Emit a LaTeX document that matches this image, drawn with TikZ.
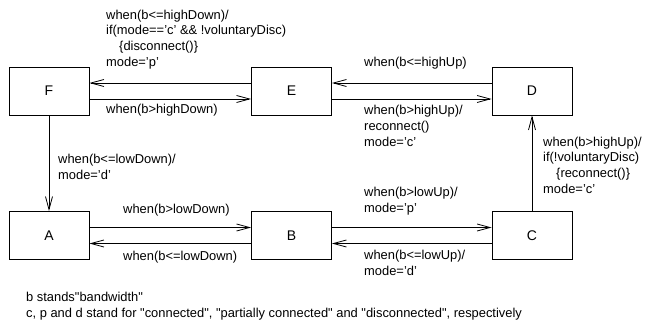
\documentclass[tikz,border=0pt]{standalone}
\usepackage{fontspec}
\setmainfont{Liberation Sans}[Ligatures=TeXOff]
\usetikzlibrary{arrows.meta}
\begin{document}
\begin{tikzpicture}[x=1pt,y=-1pt,
  state/.style={draw, line width=0.8pt, minimum width=80pt, minimum height=48pt, inner sep=0pt, font=\fontsize{14}{16}\selectfont},
  lbl/.style={anchor=base west, inner sep=0pt, align=left, font=\fontsize{12.9}{15.8}\selectfont},
  conn/.style={line width=0.8pt, -{Straight Barb[length=13pt,width=7pt,line width=0.8pt]}}]
\useasboundingbox (0,0) rectangle (647,331);
\node[state] (F) at (49,91) {F};
\node[state] (E) at (291.5,91) {E};
\node[state] (D) at (532,91) {D};
\node[state] (A) at (49,235.5) {A};
\node[state] (B) at (291.5,235.5) {B};
\node[state] (C) at (532,235.5) {C};

\draw[conn] ([yshift=8pt]E.west) -- ([yshift=8pt]F.east);
\draw[conn] ([yshift=-8pt]F.east) -- ([yshift=-8pt]E.west);
\draw[conn] ([yshift=8pt]D.west) -- ([yshift=8pt]E.east);
\draw[conn] ([yshift=-8pt]E.east) -- ([yshift=-8pt]D.west);
\draw[conn] ([yshift=8pt]A.east) -- ([yshift=8pt]B.west);
\draw[conn] ([yshift=-8pt]B.west) -- ([yshift=-8pt]A.east);
\draw[conn] ([yshift=8pt]B.east) -- ([yshift=8pt]C.west);
\draw[conn] ([yshift=-8pt]C.west) -- ([yshift=-8pt]B.east);
\draw[conn] (F.south) -- (A.north);
\draw[conn] (C.north) -- (D.south);

% anchors are at the baseline of each label's last line
\node[lbl] (l1) at (106,66.5) {when(b<=highDown)/\\if(mode==’c’ \&\& !voluntaryDisc)\\\hspace*{13pt}\{disconnect()\}\\mode=’p’};
\node[lbl] (l2) at (106,113.5) {when(b>highDown)};
\node[lbl] (l3) at (364,66.5) {when(b<=highUp)};
\node[lbl] (l4) at (364,146.5) {when(b>highUp)/\\reconnect()\\mode=’c’};
\node[lbl] (l5) at (543,193.5) {when(b>highUp)/\\if(!voluntaryDisc)\\\hspace*{13pt}\{reconnect()\}\\mode=’c’};
\node[lbl] (l6) at (58,179) {when(b<=lowDown)/\\mode=’d’};
\node[lbl] (l7) at (123,213.5) {when(b>lowDown)};
\node[lbl] (l8) at (123,260.5) {when(b<=lowDown)};
\node[lbl] (l9) at (364,212.5) {when(b>lowUp)/\\mode=’p’};
\node[lbl] (l10) at (364,275) {when(b<=lowUp)/\\mode=’d’};
\node[lbl] (n1) at (26,317.5) {b stands"bandwidth"\\c, p and d stand for "connected", "partially connected" and "disconnected", respectively};
\end{tikzpicture}
\end{document}
